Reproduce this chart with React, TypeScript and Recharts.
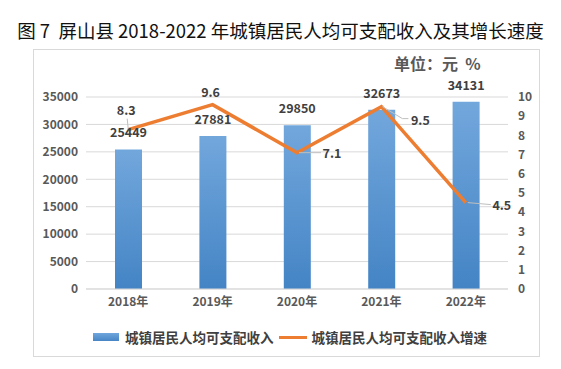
import * as React from "react";
import {
  ComposedChart,
  CartesianGrid,
  XAxis,
  YAxis,
  Bar,
  Line,
  LabelList,
  Legend,
} from "recharts";

// 数据
const years = ["2018年", "2019年", "2020年", "2021年", "2022年"];
const income = [25449, 27881, 29850, 32673, 34131];
const growth = [8.3, 9.6, 7.1, 9.5, 4.5];
const leftTicks = [0, 5000, 10000, 15000, 20000, 25000, 30000, 35000];
const rightTicks = [0, 1, 2, 3, 4, 5, 6, 7, 8, 9, 10];

const TITLE = "图 7  屏山县 2018-2022 年城镇居民人均可支配收入及其增长速度";
const UNIT = "单位：元  %";
const incomeName = "城镇居民人均可支配收入";
const growthName = "城镇居民人均可支配收入增速";

const data = years.map((y, i) => ({ year: y, income: income[i], growth: growth[i] }));

const FONT = "'Noto Sans CJK SC', 'Noto Sans', sans-serif";
const LABEL_COLOR = "#404040";
const TICK_COLOR = "#595959";
const ORANGE = "#ED7D31";

// 折线数据标签的位置（相对数据点）与引导线
const growthLabelLayout = [
  { dx: -2, dy: -20, leader: [[0, -1], [-1, -11]] },
  { dx: -2, dy: -13, leader: null },
  { dx: 35, dy: 0, leader: [[2, 0], [24, 0]] },
  { dx: 39, dy: 13, leader: [[1, 0], [21, 12], [27, 12]] },
  { dx: 36, dy: 2, leader: [[2, 0], [25, 2]] },
];

const renderGrowthLabel = (props: any) => {
  const { x, y, value, index } = props;
  const l = growthLabelLayout[index] ?? { dx: 0, dy: -12, leader: null };
  return (
    <g>
      {l.leader && (
        <polyline
          points={l.leader.map((p: number[]) => `${x + p[0]},${y + p[1]}`).join(" ")}
          fill="none"
          stroke="#bfbfbf"
          strokeWidth={1}
        />
      )}
      <text
        x={x + l.dx}
        y={y + l.dy}
        textAnchor="middle"
        dominantBaseline="central"
        fill={LABEL_COLOR}
        fontSize={12.5}
        fontWeight="bold"
        fontFamily={FONT}
      >
        {value}
      </text>
    </g>
  );
};

// 柱顶数值：基线在柱顶上方 12px
const renderIncomeLabel = (props: any) => {
  const { x, y, width, value } = props;
  return (
    <text
      x={x + width / 2}
      y={y - 12}
      textAnchor="middle"
      fill={LABEL_COLOR}
      fontSize={12.5}
      fontWeight="bold"
      fontFamily={FONT}
    >
      {value}
    </text>
  );
};

const LegendContent = () => (
  <div
    style={{
      display: "flex",
      alignItems: "center",
      fontFamily: FONT,
      fontSize: 13.5,
      fontWeight: "bold",
      color: LABEL_COLOR,
      paddingLeft: 93,
    }}
  >
    <span style={{ display: "inline-block", width: 26, height: 8, background: "linear-gradient(#6fa6dc,#4785c6)", marginRight: 6 }} />
    <span>{incomeName}</span>
    <span style={{ display: "inline-block", width: 28, height: 3, background: ORANGE, margin: "0 5px 0 5px" }} />
    <span>{growthName}</span>
  </div>
);

export default function App() {
  return (
    <div style={{ position: "absolute", left: 0, top: 0, width: 561, height: 369, background: "#fff" }}>
      <div
        style={{
          position: "absolute",
          left: 0,
          top: 18,
          width: 561,
          textAlign: "center",
          fontFamily: FONT,
          fontSize: 18.5,
          color: "#111",
          whiteSpace: "pre",
          lineHeight: "24px",
        }}
      >
        {TITLE}
      </div>
      <div
        style={{
          position: "absolute",
          left: 33,
          top: 49,
          width: 507,
          height: 308,
          border: "1px solid #d9d9d9",
          boxSizing: "border-box",
        }}
      />
      <div
        style={{
          position: "absolute",
          left: 394,
          top: 55,
          fontFamily: FONT,
          fontSize: 16,
          fontWeight: "bold",
          color: TICK_COLOR,
          whiteSpace: "pre",
          lineHeight: "16px",
        }}
      >
        {UNIT}
      </div>
      <div style={{ position: "absolute", left: 0, top: 0 }}>
        <ComposedChart
          width={561}
          height={369}
          data={data}
          margin={{ top: 97, right: 10, bottom: 50, left: 30 }}
        >
          <defs>
            <linearGradient id="barGrad" x1="0" y1="0" x2="0" y2="1">
              <stop offset="0%" stopColor="#72a7dc" />
              <stop offset="100%" stopColor="#4484c5" />
            </linearGradient>
          </defs>
          <CartesianGrid vertical={false} stroke="#d9d9d9" yAxisId="left" />
          <XAxis
            dataKey="year"
            tickLine={false}
            axisLine={{ stroke: "#d9d9d9" }}
            height={30}
            tick={{ fill: TICK_COLOR, fontSize: 12, fontWeight: "bold", fontFamily: FONT }}
          />
          <YAxis
            yAxisId="left"
            width={56}
            domain={[0, 35000]}
            ticks={leftTicks}
            interval={0}
            tickLine={false}
            axisLine={false}
            tick={{ fill: TICK_COLOR, fontSize: 12, fontWeight: "bold", fontFamily: FONT }}
          />
          <YAxis
            yAxisId="right"
            orientation="right"
            width={43}
            domain={[0, 10]}
            ticks={rightTicks}
            interval={0}
            tickLine={false}
            axisLine={false}
            tickMargin={4}
            tick={{ fill: TICK_COLOR, fontSize: 12, fontWeight: "bold", fontFamily: FONT, textAnchor: "start" }}
          />
          <Bar
            yAxisId="left"
            dataKey="income"
            name={incomeName}
            fill="url(#barGrad)"
            barSize={27}
            isAnimationActive={false}
          >
            <LabelList dataKey="income" content={renderIncomeLabel} />
          </Bar>
          <Line
            yAxisId="right"
            type="linear"
            dataKey="growth"
            name={growthName}
            stroke={ORANGE}
            strokeWidth={3.5}
            dot={false}
            activeDot={false}
            isAnimationActive={false}
          >
            <LabelList dataKey="growth" content={renderGrowthLabel} />
          </Line>
          <Legend
            verticalAlign="middle"
            align="center"
            layout="horizontal"
            content={LegendContent}
            wrapperStyle={{ top: 327, left: 0, width: 561, height: 20 }}
          />
        </ComposedChart>
      </div>
    </div>
  );
}
